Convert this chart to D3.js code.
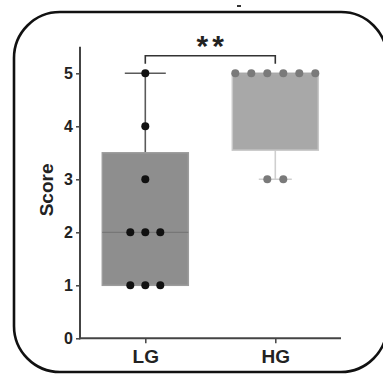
<!DOCTYPE html>
<html>
<head>
<meta charset="utf-8">
<script src="https://cdn.jsdelivr.net/npm/d3@7"></script>
<style>
  body { margin: 0; background: #fff; }
  svg { display: block; font-family: Arial, "Liberation Sans", sans-serif; }
</style>
</head>
<body>
<div id="chart"></div>
<script>
// groups and the scores
var groups = ["LG", "HG"];
var lgScores = [5, 4, 3, 2, 2, 2, 1, 1, 1];
var hgScores = [5, 5, 5, 5, 5, 5, 3, 3];
// box stats: [whisker low, q1, median, q3, whisker high]
var lgBox = [1, 1, 2, 3.5, 5];
var hgBox = [3, 3.55, 5, 5, 5];
var yTicks = [0, 1, 2, 3, 4, 5];
var sigLabel = "**";

var width = 383, height = 376;
var svg = d3.select("#chart").append("svg")
    .attr("width", width)
    .attr("height", height);

// rounded frame
svg.append("rect")
    .attr("x", 14).attr("y", 12)
    .attr("width", 373).attr("height", 360)
    .attr("rx", 46).attr("ry", 46)
    .attr("fill", "none")
    .attr("stroke", "#111")
    .attr("stroke-width", 2.6);

// stray mark at the top
svg.append("rect")
    .attr("x", 237).attr("y", 5).attr("width", 4).attr("height", 2)
    .attr("fill", "#333");

var x = d3.scalePoint().domain(groups).range([145.3, 275.3]);
var y = d3.scaleLinear().domain([0, 5.5]).range([338.3, 46.8]);
var axisLeftX = 80, axisRightX = 341;

var boxW = 86;
var series = [
    { name: "LG", box: lgBox, pts: lgScores, fill: "#8e8e8e", edge: "#9c9c9c", whisker: "#5a5a5a", cap: 41, dot: "#111", median: "#777" },
    { name: "HG", box: hgBox, pts: hgScores, fill: "#a8a8a8", edge: "#c8c8c8", whisker: "#cfcfcf", cap: 33, dot: "#7a7a7a", median: "#a8a8a8" }
];

series.forEach(function (s) {
    var cx = x(s.name);
    var g = svg.append("g");
    // whiskers
    g.append("line")
        .attr("x1", cx).attr("x2", cx)
        .attr("y1", y(s.box[4])).attr("y2", y(s.box[3]))
        .attr("stroke", s.whisker).attr("stroke-width", 1.6);
    g.append("line")
        .attr("x1", cx).attr("x2", cx)
        .attr("y1", y(s.box[1])).attr("y2", y(s.box[0]))
        .attr("stroke", s.whisker).attr("stroke-width", 1.6);
    // caps
    [s.box[0], s.box[4]].forEach(function (v, i) {
        if ((i === 0 && s.box[0] < s.box[1]) || (i === 1 && s.box[4] > s.box[3])) {
            g.append("line")
                .attr("x1", cx - s.cap / 2).attr("x2", cx + s.cap / 2)
                .attr("y1", y(v)).attr("y2", y(v))
                .attr("stroke", s.whisker).attr("stroke-width", 1.6);
        }
    });
    // box
    g.append("rect")
        .attr("x", cx - boxW / 2)
        .attr("y", y(s.box[3]))
        .attr("width", boxW)
        .attr("height", y(s.box[1]) - y(s.box[3]))
        .attr("fill", s.fill)
        .attr("stroke", s.edge)
        .attr("stroke-width", 1.5);
    // median
    g.append("line")
        .attr("x1", cx - boxW / 2).attr("x2", cx + boxW / 2)
        .attr("y1", y(s.box[2])).attr("y2", y(s.box[2]))
        .attr("stroke", s.median).attr("stroke-width", 1.2);

    // dots, spread sideways per value
    var counts = d3.rollup(s.pts, function (v) { return v.length; }, function (d) { return d; });
    var seen = new Map();
    var step = s.name === "LG" ? 15 : 16;
    s.pts.forEach(function (v) {
        var n = counts.get(v);
        var k = seen.get(v) || 0;
        seen.set(v, k + 1);
        g.append("circle")
            .attr("cx", cx + (k - (n - 1) / 2) * step)
            .attr("cy", y(v))
            .attr("r", 4)
            .attr("fill", s.dot);
    });
});

// axes
var yAxis = d3.axisLeft(y).tickValues(yTicks).tickSize(4).tickPadding(3).tickFormat(d3.format("d"));
var yg = svg.append("g")
    .attr("transform", "translate(" + axisLeftX + ",0)")
    .call(yAxis);
yg.select(".domain").remove();
yg.append("line")
    .attr("x1", 0).attr("x2", 0)
    .attr("y1", y(5.5)).attr("y2", y(0) + 1)
    .attr("stroke", "#444").attr("stroke-width", 2);
yg.selectAll(".tick line").attr("stroke", "#444").attr("stroke-width", 1.5);
yg.selectAll(".tick text")
    .attr("fill", "#222")
    .style("font-size", "16px")
    .style("font-weight", "bold");

var xAxis = d3.axisBottom(x).tickSize(5).tickPadding(6);
var xg = svg.append("g")
    .attr("transform", "translate(0," + y(0) + ")")
    .call(xAxis);
xg.select(".domain").remove();
xg.append("line")
    .attr("x1", axisLeftX - 1).attr("x2", axisRightX)
    .attr("y1", 0).attr("y2", 0)
    .attr("stroke", "#444").attr("stroke-width", 2);
xg.selectAll(".tick line").attr("stroke", "#444").attr("stroke-width", 1.5);
xg.selectAll(".tick text")
    .attr("fill", "#222")
    .style("font-size", "19px")
    .style("font-weight", "bold");

// y label
svg.append("text")
    .attr("transform", "translate(53," + y(2.8) + ") rotate(-90)")
    .attr("text-anchor", "middle")
    .attr("fill", "#222")
    .style("font-size", "19px")
    .style("font-weight", "bold")
    .text("Score");

// significance bracket
var bracketY = 55.7;
svg.append("path")
    .attr("d", "M" + x("LG") + "," + (bracketY + 8) + "V" + bracketY + "H" + x("HG") + "V" + (bracketY + 8))
    .attr("fill", "none")
    .attr("stroke", "#333")
    .attr("stroke-width", 1.6);
svg.append("text")
    .attr("x", (x("LG") + x("HG")) / 2 + 2)
    .attr("y", 56)
    .attr("text-anchor", "middle")
    .attr("fill", "#222")
    .style("font-size", "30px")
    .style("font-weight", "bold")
    .style("letter-spacing", "4px")
    .text(sigLabel);
</script>
</body>
</html>
